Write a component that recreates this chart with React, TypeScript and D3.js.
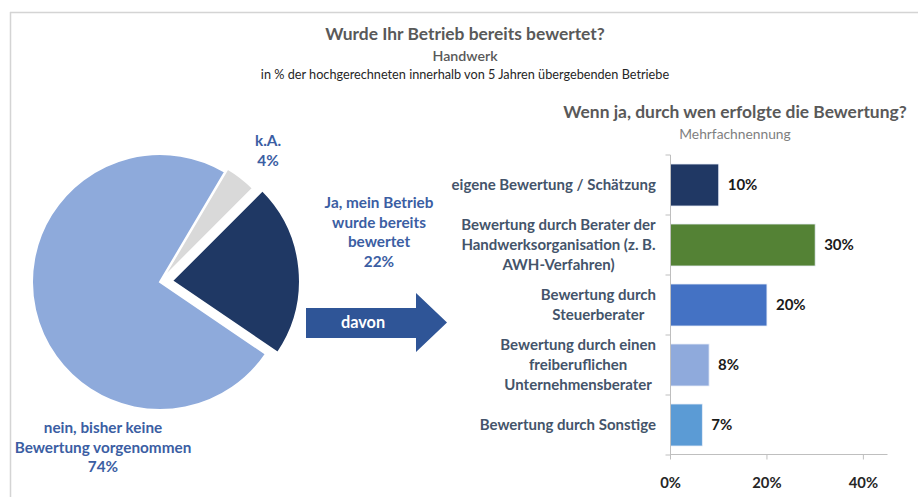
import React, { useEffect, useRef } from "react";
import * as d3 from "d3";

// ---------- data ----------
const pieCategories = ["k.A.", "Ja, mein Betrieb wurde bereits bewertet", "nein, bisher keine Bewertung vorgenommen"];
const pieValues = [4, 22, 74];
const pieLabelLines = [["k.A."], ["Ja, mein Betrieb", "wurde bereits", "bewertet"], ["nein, bisher keine", "Bewertung vorgenommen"]];

const barCategories = [
  "eigene Bewertung / Schätzung",
  "Bewertung durch Berater der Handwerksorganisation (z. B. AWH-Verfahren)",
  "Bewertung durch Steuerberater",
  "Bewertung durch einen freiberuflichen Unternehmensberater",
  "Bewertung durch Sonstige",
];
const barLabelLines = [
  ["eigene Bewertung / Schätzung"],
  ["Bewertung durch Berater der", "Handwerksorganisation (z. B.", "AWH-Verfahren)"],
  ["Bewertung durch", "Steuerberater"],
  ["Bewertung durch einen", "freiberuflichen", "Unternehmensberater"],
  ["Bewertung durch Sonstige"],
];
const barValues = [10, 30, 20, 8, 6.6];
const xTicks = [0, 20, 40];

const mainTitle = "Wurde Ihr Betrieb bereits bewertet?";
const mainSub1 = "Handwerk";
const mainSub2 = "in % der hochgerechneten innerhalb von 5 Jahren übergebenden Betriebe";
const barTitle = "Wenn ja, durch wen erfolgte die Bewertung?";
const barSub = "Mehrfachnennung";
const arrowText = "davon";

// ---------- styles ----------
const FONT = "Lato, 'Open Sans', sans-serif";
const pieColors = ["#d9d9d9", "#1f3864", "#8eaadb"];
const pieExplode = [4, 12, 0];
const pieLabelPos = [
  [268, 146],
  [379, 208],
  [103, 433],
];
const barColors = ["#203864", "#548235", "#4472c4", "#8faadc", "#5b9bd5"];

export default function App() {
  const ref = useRef<SVGSVGElement | null>(null);

  useEffect(() => {
    const svg = d3.select(ref.current);
    svg.selectAll("*").remove();

    // frame
    svg.append("line").attr("x1", 10).attr("x2", 918).attr("y1", 12.5).attr("y2", 12.5).attr("stroke", "#d4d4d4").attr("stroke-width", 1.5);
    svg.append("line").attr("x1", 10.5).attr("x2", 10.5).attr("y1", 12).attr("y2", 497).attr("stroke", "#d4d4d4").attr("stroke-width", 1.5);

    // titles
    svg.append("text").attr("x", 465).attr("y", 40).attr("text-anchor", "middle")
      .attr("font-family", FONT).attr("font-weight", 700).attr("font-size", 17.4).attr("fill", "#595959").text(mainTitle);
    svg.append("text").attr("x", 465).attr("y", 61).attr("text-anchor", "middle")
      .attr("font-family", FONT).attr("font-weight", 600).attr("font-size", 14.2).attr("fill", "#595959").text(mainSub1);
    svg.append("text").attr("x", 465).attr("y", 79).attr("text-anchor", "middle")
      .attr("font-family", FONT).attr("font-size", 12.7).attr("fill", "#262626").text(mainSub2);

    svg.append("text").attr("x", 735).attr("y", 118).attr("text-anchor", "middle")
      .attr("font-family", FONT).attr("font-weight", 700).attr("font-size", 17.4).attr("fill", "#595959").text(barTitle);
    svg.append("text").attr("x", 735).attr("y", 139).attr("text-anchor", "middle")
      .attr("font-family", FONT).attr("font-size", 13.8).attr("fill", "#7f7f7f").text(barSub);

    // ---------- pie ----------
    const cx = 160, cy = 282, r = 128;
    const start = (30.6 * Math.PI) / 180;
    const pie = d3.pie<number>().sort(null).value((d) => d).startAngle(start).endAngle(start + 2 * Math.PI);
    const arc = d3.arc<d3.PieArcDatum<number>>().innerRadius(0).outerRadius(r);
    const arcs = pie(pieValues);
    const pg = svg.append("g").attr("transform", `translate(${cx},${cy})`);
    pg.selectAll("path").data(arcs).enter().append("path")
      .attr("d", (d) => arc(d) as string)
      .attr("fill", (d, i) => pieColors[i])
      .attr("stroke", "#fff").attr("stroke-width", 2).attr("stroke-linejoin", "miter")
      .attr("transform", (d, i) => {
        const a = (d.startAngle + d.endAngle) / 2;
        const e = pieExplode[i];
        return `translate(${e * Math.sin(a)},${-e * Math.cos(a)})`;
      })
      .append("title").text((d, i) => pieCategories[i]);

    pieLabelLines.forEach((lines, i) => {
      const t = svg.append("text").attr("text-anchor", "middle")
        .attr("font-family", FONT).attr("font-weight", 700).attr("font-size", 15.3).attr("fill", "#3b5ea3");
      const all = [...lines, `${pieValues[i]}%`];
      all.forEach((l, j) => {
        t.append("tspan").attr("x", pieLabelPos[i][0]).attr("y", pieLabelPos[i][1] + j * 19.5).text(l);
      });
    });

    // ---------- arrow ----------
    const ax0 = 306, ax1 = 416, axTip = 447, by0 = 308, by1 = 338, hy0 = 293, hy1 = 352;
    const midY = (hy0 + hy1) / 2;
    svg.append("path")
      .attr("d", `M${ax0},${by0}L${ax1},${by0}L${ax1},${hy0}L${axTip},${midY}L${ax1},${hy1}L${ax1},${by1}L${ax0},${by1}Z`)
      .attr("fill", "#2f5597");
    svg.append("text").attr("x", 363).attr("y", midY + 5.5).attr("text-anchor", "middle")
      .attr("font-family", FONT).attr("font-weight", 700).attr("font-size", 16.3).attr("fill", "#fff").text(arrowText);

    // ---------- bars ----------
    const x = d3.scaleLinear().domain([0, 45]).range([670.5, 887.5]);
    const y = d3.scaleBand<number>().domain(barValues.map((_, i) => i)).range([155, 455]).paddingInner(0.3).paddingOuter(0.15);
    const axisColor = "#bfbfbf";

    const bg = svg.append("g");
    bg.selectAll("rect").data(barValues).enter().append("rect")
      .attr("x", x(0)).attr("y", (d, i) => y(i) as number)
      .attr("width", (d) => x(d) - x(0)).attr("height", y.bandwidth())
      .attr("fill", (d, i) => barColors[i]).attr("stroke", "#e8eef8").attr("stroke-width", 0.8)
      .append("title").text((d, i) => barCategories[i]);

    // vertical axis
    svg.append("line").attr("x1", x(0)).attr("x2", x(0)).attr("y1", 155).attr("y2", 455).attr("stroke", axisColor);
    const bounds = [155, ...barValues.map((_, i) => (y(i) as number) + y.bandwidth() + y.step() * 0.15)];
    bounds.forEach((b) => {
      svg.append("line").attr("x1", x(0) - 5).attr("x2", x(0)).attr("y1", b).attr("y2", b).attr("stroke", axisColor);
    });
    // horizontal axis
    svg.append("line").attr("x1", x(0)).attr("x2", x.range()[1]).attr("y1", 454.5).attr("y2", 454.5).attr("stroke", axisColor);
    xTicks.forEach((t) => {
      svg.append("line").attr("x1", x(t)).attr("x2", x(t)).attr("y1", 454.5).attr("y2", 459.5).attr("stroke", axisColor);
      svg.append("text").attr("x", x(t)).attr("y", 488).attr("text-anchor", "middle")
        .attr("font-family", FONT).attr("font-weight", 700).attr("font-size", 14.8).attr("fill", "#262626").text(`${t}%`);
    });

    // value labels
    barValues.forEach((v, i) => {
      svg.append("text").attr("x", x(v) + 9).attr("y", (y(i) as number) + y.bandwidth() / 2 + 5)
        .attr("font-family", FONT).attr("font-weight", 700).attr("font-size", 15).attr("fill", "#1a1a1a")
        .text(`${Math.round(v)}%`);
    });

    // category labels: lines centred on each other, block right-aligned to the axis
    const lh = 19.8;
    barLabelLines.forEach((lines, i) => {
      const g = svg.append("g");
      const t = g.append("text").attr("text-anchor", "middle")
        .attr("font-family", FONT).attr("font-weight", 700).attr("font-size", 15).attr("fill", "#44546a");
      const yc = (y(i) as number) + y.bandwidth() / 2;
      const y0 = yc - ((lines.length - 1) * lh) / 2 + 5;
      lines.forEach((l, j) => t.append("tspan").attr("x", 0).attr("y", y0 + j * lh).text(l));
      const bb = (t.node() as SVGTextElement).getBBox();
      const right = 656;
      g.attr("transform", `translate(${right - (bb.x + bb.width)},0)`);
    });
  }, []);

  return (
    <svg ref={ref} width={918} height={497} style={{ position: "absolute", left: 0, top: 0, background: "#fff" }} />
  );
}
